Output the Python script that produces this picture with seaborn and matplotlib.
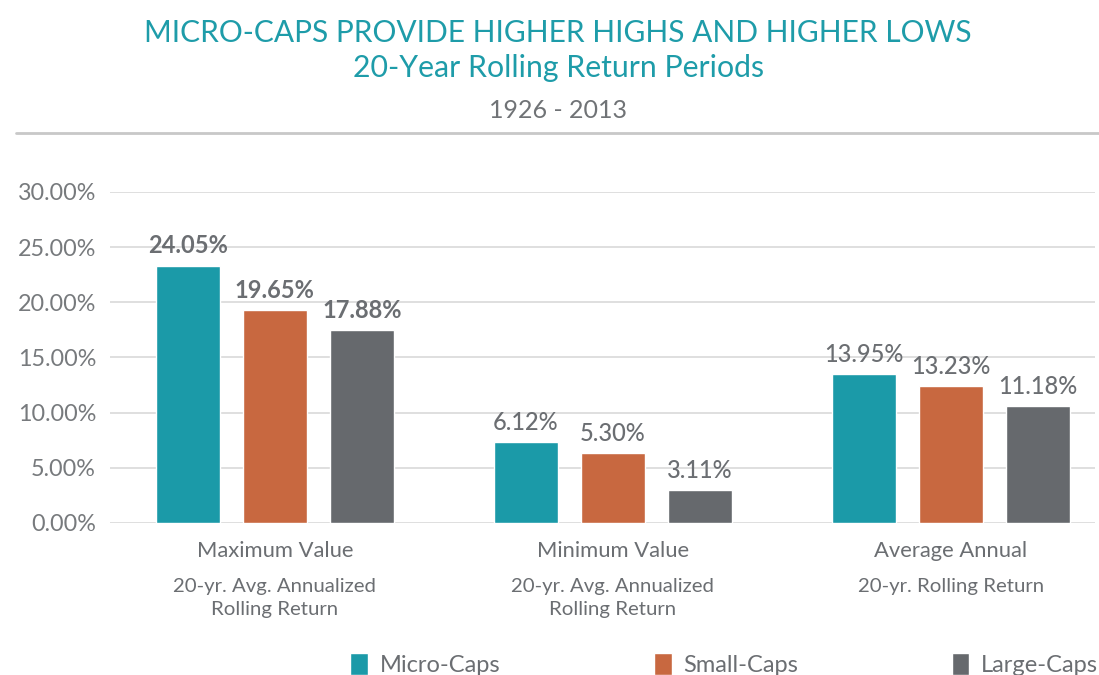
import pandas as pd
import matplotlib
matplotlib.use('Agg')
import matplotlib.pyplot as plt
import matplotlib.transforms as mtransforms
from matplotlib.patches import Patch
import seaborn as sns

# ---------------- dados ----------------
categorias = ['Maximum Value', 'Minimum Value', 'Average Annual']
sub_rotulos = ['20-yr. Avg. Annualized\nRolling Return',
               '20-yr. Avg. Annualized\nRolling Return',
               '20-yr. Rolling Return']
series = ['Micro-Caps', 'Small-Caps', 'Large-Caps']
# alturas das barras como desenhadas na figura
micro = [23.33, 7.34, 13.49]
small = [19.27, 6.35, 12.40]
large = [17.46, 3.00, 10.60]
# rotulos impressos acima das barras
rot_micro = ['24.05%', '6.12%', '13.95%']
rot_small = ['19.65%', '5.30%', '13.23%']
rot_large = ['17.88%', '3.11%', '11.18%']
yticks = [0, 5, 10, 15, 20, 25, 30]

cores = ['#1B9AA8', '#C86840', '#66696D']
cinza = '#6b6e72'
teal = '#1E9CA9'

df = pd.DataFrame({
    'categoria': categorias * 3,
    'serie': [s for s in series for _ in categorias],
    'valor': micro + small + large,
})

sns.set_style('white')
plt.rcParams['font.family'] = ['Lato', 'DejaVu Sans']

fig = plt.figure(figsize=(10.99, 6.75), dpi=100)
ax = fig.add_axes([0.100, 0.2252, 0.896, 0.4904])

sns.barplot(data=df, x='categoria', y='valor', hue='serie', order=categorias,
            hue_order=series, palette=cores, width=0.772, gap=0.265,
            saturation=1, legend=False, ax=ax)

ax.set_ylim(0, 30)
ax.set_xlim(-0.488, 2.426)
ax.set_yticks(yticks)
ax.set_yticklabels([f'{v:.2f}%' for v in yticks], fontsize=16.8, color='#777a7d')
ax.yaxis.grid(True, color='#dcdcdc', linewidth=1.3)
ax.set_axisbelow(True)
ax.set_xlabel('')
ax.set_ylabel('')
ax.tick_params(axis='both', length=0)
ax.tick_params(axis='y', pad=10)
ax.tick_params(axis='x', pad=13)
ax.set_xticklabels(categorias, fontsize=15.8, color=cinza)
for s in ax.spines.values():
    s.set_visible(False)

# rotulos de valor
for cont, rots in zip(ax.containers, [rot_micro, rot_small, rot_large]):
    txts = ax.bar_label(cont, labels=rots, padding=6, fontsize=17, color=cinza)
    txts[0].set_fontweight('bold')
    for t in txts[1:]:
        t.set_fontweight('medium')

# sub rotulos do eixo x
trans = mtransforms.blended_transform_factory(ax.transData, ax.transAxes)
for i, sub in enumerate(sub_rotulos):
    ax.text(i, -0.166, sub, transform=trans, ha='center', va='top',
            fontsize=14.7, color=cinza, linespacing=1.45)

# titulos
fig.text(0.508, 0.951, 'MICRO-CAPS PROVIDE HIGHER HIGHS AND HIGHER LOWS',
         ha='center', va='center', fontsize=21.5, color=teal)
fig.text(0.508, 0.899, '20-Year Rolling Return Periods',
         ha='center', va='center', fontsize=21.8, color=teal)
fig.text(0.508, 0.837, '1926 - 2013', ha='center', va='center',
         fontsize=18, color='#707376')
fig.add_artist(plt.Line2D([0.015, 1.0], [0.803, 0.803], color='#c8c8c8',
                          linewidth=2, transform=fig.transFigure))

# legenda
handles = [Patch(facecolor=c, label=s) for c, s in zip(cores, series)]
fig.legend(handles=handles, loc='center', bbox_to_anchor=(0.659, 0.016), ncol=3,
           frameon=False, fontsize=17, labelcolor=cinza, handlelength=0.75,
           handleheight=1.1, handletextpad=0.5, columnspacing=6.5)

fig.savefig('out.png', dpi=100)
